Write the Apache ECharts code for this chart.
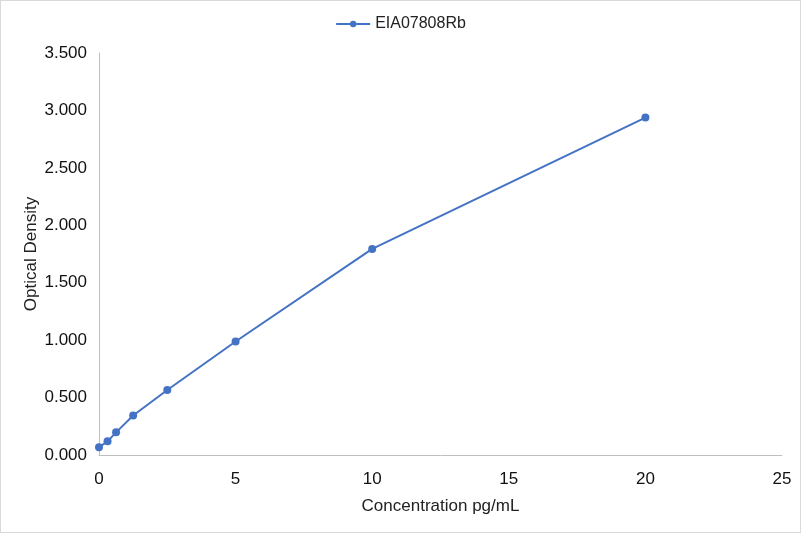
<!DOCTYPE html>
<head>
    <meta charset="utf-8">
    <title>EIA07808Rb</title>
    <script src="https://cdn.jsdelivr.net/npm/echarts@6/dist/echarts.min.js"></script>
    <style>
        html, body { margin:0; padding:0; background:#fff; }
        #main { width:801px; height:533px; box-sizing:border-box; border:1px solid #d9d9d9; }
    </style>
</head>
<body>
    <div id="main"></div>
    <script type="text/javascript">
        var seriesName = 'EIA07808Rb';
        var conc = [0, 0.3125, 0.625, 1.25, 2.5, 5, 10, 20];
        var od = [0.067, 0.119, 0.197, 0.344, 0.566, 0.988, 1.794, 2.938];

        var pts = [];
        for (var i = 0; i < conc.length; i++) {
            pts.push([conc[i], od[i]]);
        }

        var myChart = echarts.init(document.getElementById('main'));
        var option = {
            textStyle: { fontFamily: 'Liberation Sans, Arial, sans-serif' },
            legend: {
                data: [seriesName],
                top: 10,
                left: 'center',
                itemWidth: 34,
                itemHeight: 8,
                textStyle: { fontSize: 16, color: '#222' }
            },
            grid: { left: 98, right: 18, top: 52, bottom: 77, containLabel: false },
            xAxis: {
                type: 'value',
                min: 0, max: 25, interval: 5,
                name: 'Concentration pg/mL',
                nameLocation: 'middle',
                nameGap: 43,
                nameMoveOverlap: false,
                nameTextStyle: { fontSize: 17, color: '#222' },
                axisLine: { show: true, lineStyle: { color: '#bfbfbf', width: 1 } },
                axisTick: { show: false },
                splitLine: { show: false },
                axisLabel: { fontSize: 17, color: '#111', margin: 16 }
            },
            yAxis: {
                type: 'value',
                min: 0, max: 3.5, interval: 0.5,
                name: 'Optical Density',
                nameLocation: 'middle',
                nameGap: 59,
                nameMoveOverlap: false,
                nameTextStyle: { fontSize: 17, color: '#222' },
                axisLine: { show: true, lineStyle: { color: '#bfbfbf', width: 1 } },
                axisTick: { show: false },
                splitLine: { show: false },
                axisLabel: {
                    fontSize: 17, color: '#111', margin: 12,
                    formatter: function (v) { return v.toFixed(3); }
                }
            },
            series: [
                {
                    name: seriesName,
                    type: 'line',
                    data: pts,
                    symbol: 'circle',
                    symbolSize: 8,
                    lineStyle: { color: '#4472c4', width: 2 },
                    itemStyle: { color: '#4472c4' }
                }
            ]
        };
        myChart.setOption(option);
    </script>
</body>
